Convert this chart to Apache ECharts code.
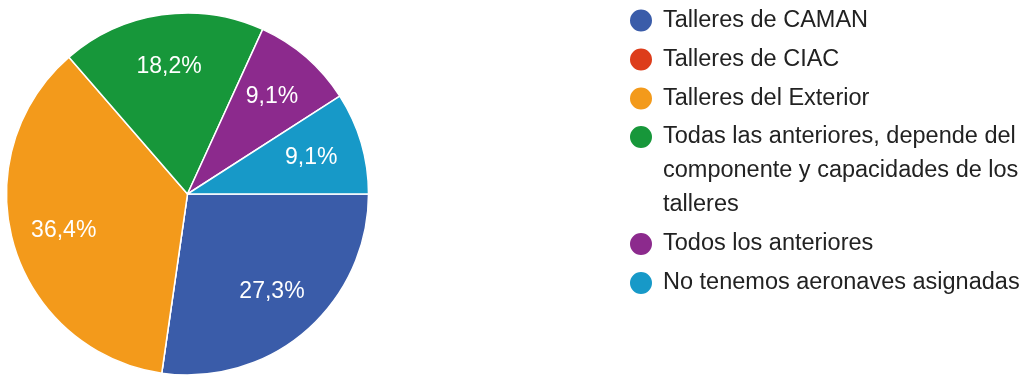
<!DOCTYPE html>
<html>
<head>
<meta charset="utf-8">
<script src="https://cdn.jsdelivr.net/npm/echarts@6/dist/echarts.min.js"></script>
<style>
html,body{margin:0;padding:0;background:#fff;}
#c{width:1025px;height:380px;}
</style>
</head>
<body>
<div id="c"></div>
<script>
const categories = [
  'Talleres de CAMAN',
  'Talleres de CIAC',
  'Talleres del Exterior',
  'Todas las anteriores, depende del componente y capacidades de los talleres',
  'Todos los anteriores',
  'No tenemos aeronaves asignadas'
];
const values = [3, 0, 4, 2, 1, 1];
const colors = ['#3a5ca9', '#dd3d1b', '#f39a1b', '#17973a', '#8c2a8d', '#1799c8'];
// legend text line breaks (two leading blank lines keep the dot on the first line)
const wrappedNames = {
  'Todas las anteriores, depende del componente y capacidades de los talleres':
    '\n\nTodas las anteriores, depende del\ncomponente y capacidades de los\ntalleres'
};

const total = values.reduce((a, b) => a + b, 0);
const pieData = categories.map((c, i) => ({ name: c, value: values[i] }));
const FONT = 'Arial, "Liberation Sans", sans-serif';
const LH = 34;

const chart = echarts.init(document.getElementById('c'), null, { renderer: 'canvas' });

const legendCommon = {
  orient: 'vertical',
  left: 628,
  padding: 0,
  itemWidth: 24,
  itemHeight: 24,
  itemGap: 5,
  icon: 'circle',
  selectedMode: false,
  formatter: n => wrappedNames[n] || n,
  textStyle: {
    fontFamily: FONT,
    fontSize: 23.5,
    color: '#222222',
    lineHeight: LH,
    padding: [0, 0, 0, 5]
  }
};

chart.setOption({
  animation: false,
  color: colors,
  legend: [
    Object.assign({}, legendCommon, {
      top: 3.5,
      data: categories.slice(0, 3)
    }),
    Object.assign({}, legendCommon, {
      top: 52,
      data: categories.slice(3)
    })
  ],
  series: [
    {
      type: 'pie',
      center: [187.5, 194],
      radius: [0, 181],
      startAngle: 0,
      clockwise: true,
      label: { show: false },
      labelLine: { show: false },
      emphasis: { disabled: true },
      itemStyle: { borderColor: '#ffffff', borderWidth: 1.5 },
      data: pieData
    },
    {
      type: 'pie',
      center: [187.5, 194],
      radius: [71, 181],
      startAngle: 0,
      clockwise: true,
      silent: true,
      legendHoverLink: false,
      emphasis: { disabled: true },
      itemStyle: { color: 'rgba(0,0,0,0)', borderWidth: 0 },
      labelLine: { show: false },
      label: {
        show: true,
        position: 'inside',
        color: '#ffffff',
        fontFamily: FONT,
        fontSize: 23,
        formatter: p => p.value > 0 ? (p.value / total * 100).toFixed(1).replace('.', ',') + '%' : ''
      },
      data: pieData
    }
  ]
});
</script>
</body>
</html>
